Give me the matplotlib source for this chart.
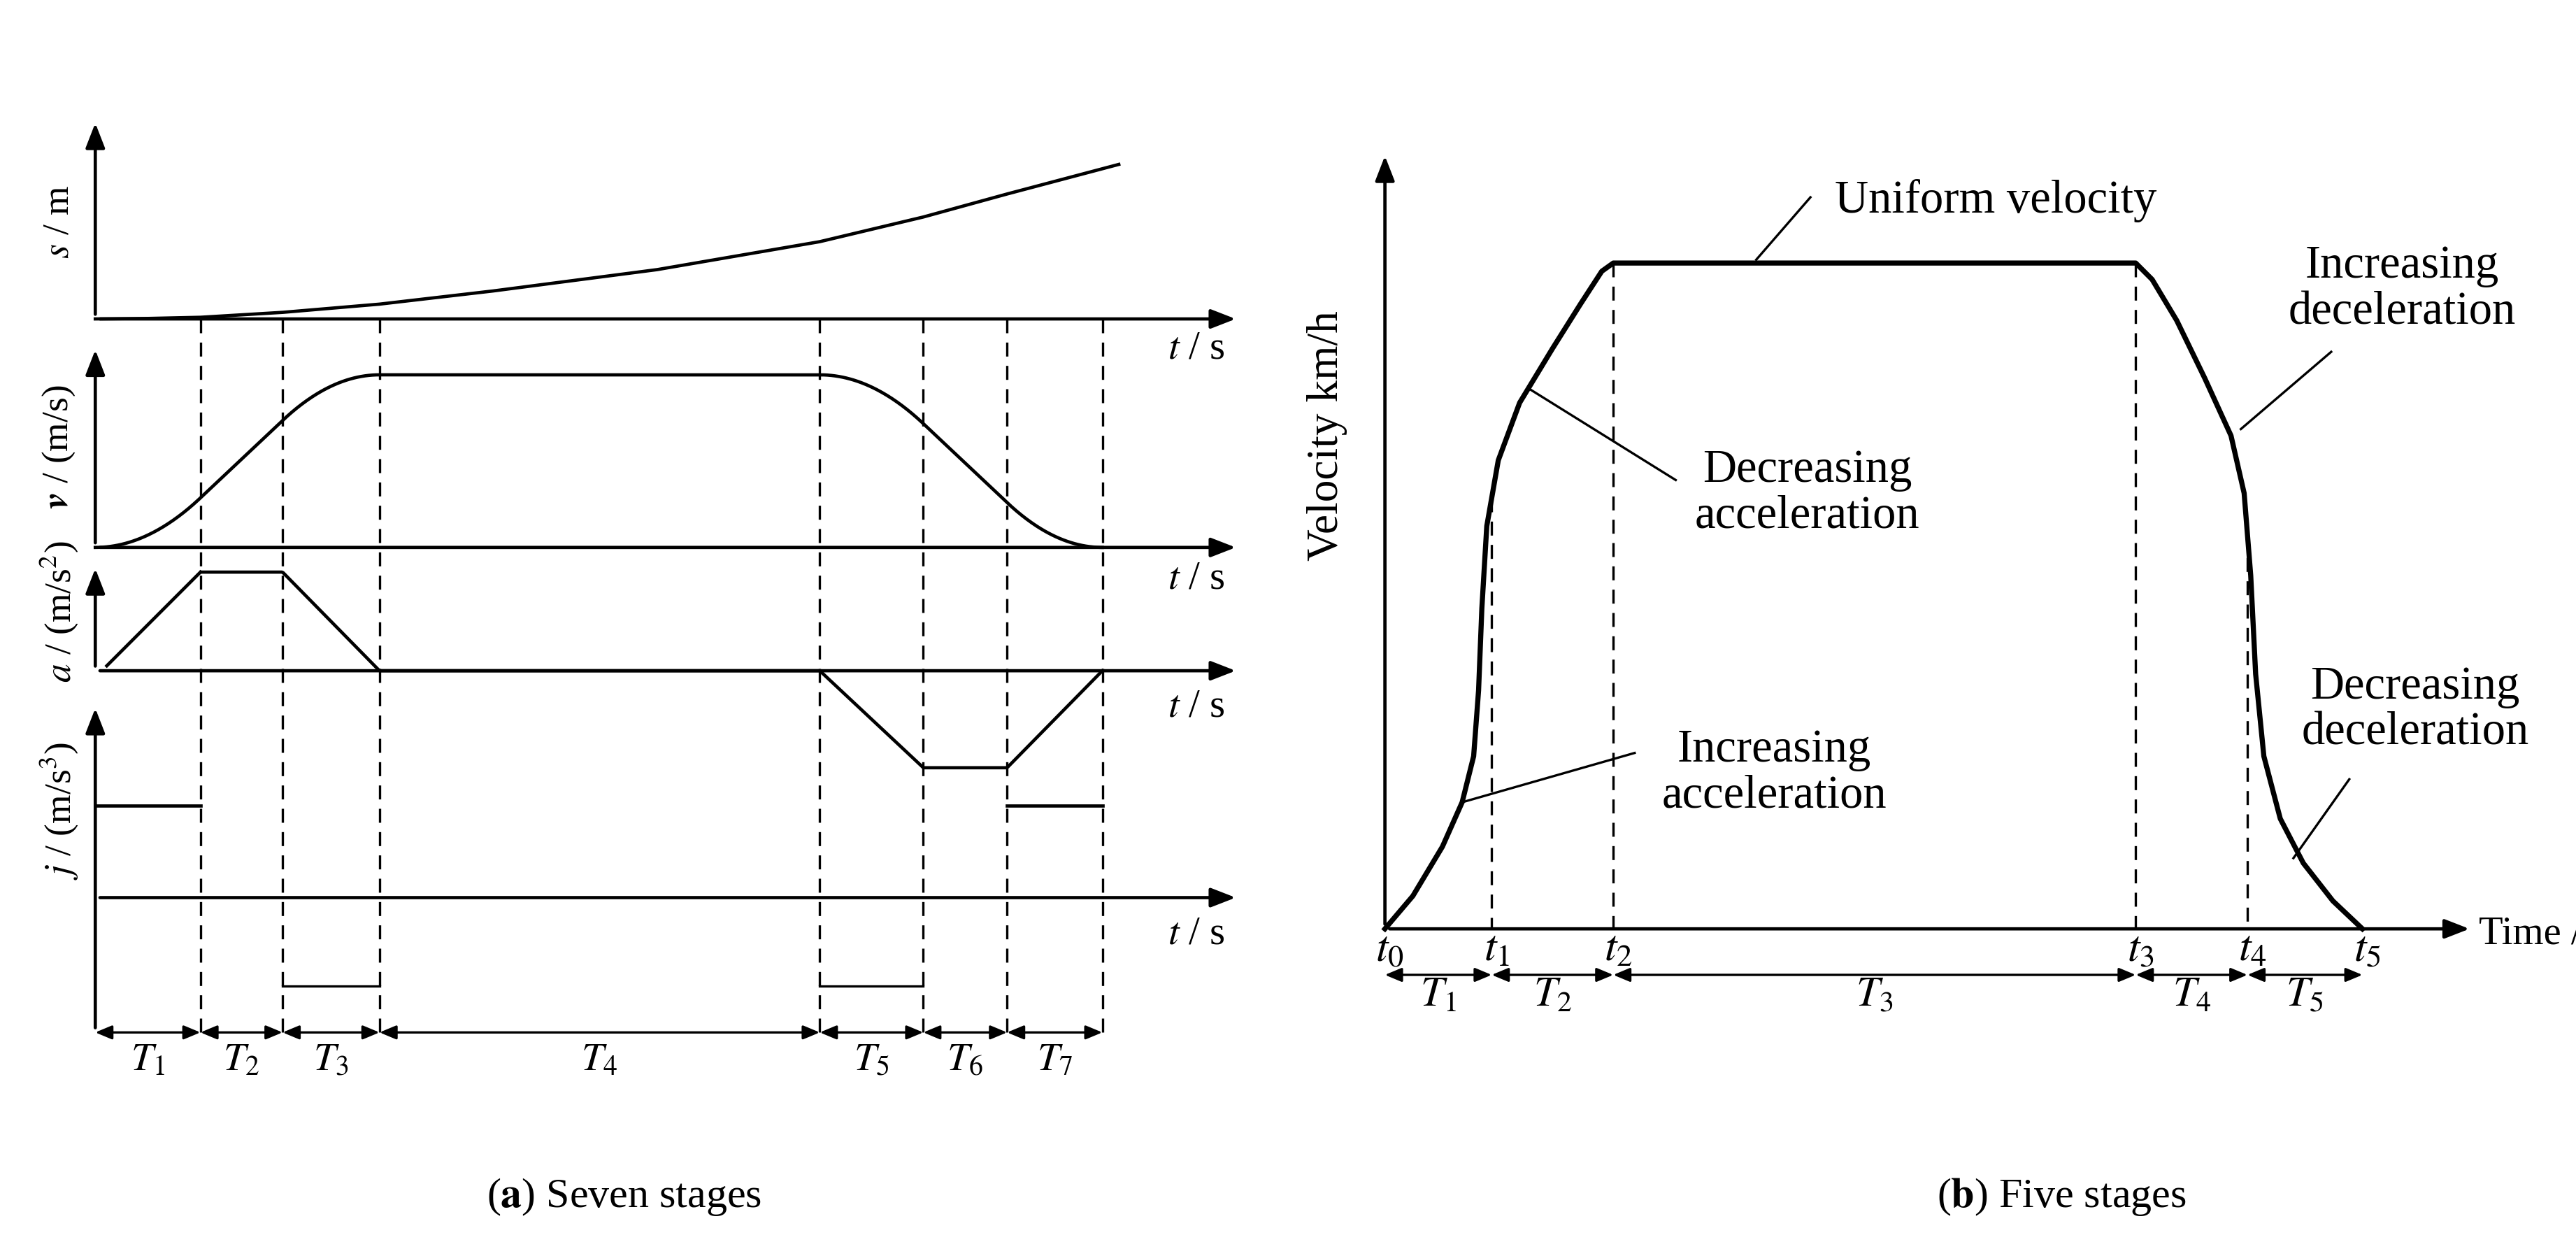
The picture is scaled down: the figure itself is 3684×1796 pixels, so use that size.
import numpy as np
import matplotlib.pyplot as plt

plt.rcParams['font.family'] = 'Liberation Serif'
plt.rcParams['mathtext.fontset'] = 'stix'

# ---- panel (a): seven stages (coordinates in reference pixels / 2.35) ----
t_bounds = [58, 122, 172, 231, 499, 562, 613, 671]
stage_labels = ['$T_1$', '$T_2$', '$T_3$', '$T_4$', '$T_5$', '$T_6$', '$T_7$']
a_levels = [0, 1, 1, 0, 0, -1, -1, 0]          # acceleration at each boundary
j_levels = [1, 0, -1, 0, -1, 0, 1]             # jerk per stage
s_x = [58, 90, 122, 172, 231, 300, 400, 499, 562, 613, 681]
s_h = [0, 0.3, 1, 4, 9, 17, 30, 47, 62, 76, 94]

# ---- panel (b): five stages ----
b_bounds = [843, 908, 982, 1300, 1368, 1438]
b_names = ['$t_0$', '$t_1$', '$t_2$', '$t_3$', '$t_4$', '$t_5$']
b_stage = ['$T_1$', '$T_2$', '$T_3$', '$T_4$', '$T_5$']
vel_x = [843, 860, 878, 890, 897, 900, 902, 905, 912, 925, 945, 962, 975, 982,
         1300, 1310, 1325, 1342, 1358, 1366, 1370, 1373, 1378, 1388, 1402, 1420, 1438]
vel_y = [565, 545, 515, 488, 460, 420, 370, 320, 280, 245, 212, 185, 165, 160,
         160, 170, 195, 230, 265, 300, 350, 410, 460, 498, 525, 548, 565]

fig = plt.figure(figsize=(3684 / 240, 1796 / 240), dpi=240)
ax = fig.add_axes([0, 0, 1, 1])
ax.set_xlim(0, 1568)
ax.set_ylim(764, 0)
ax.axis('off')

lw = 1.4
arr = dict(arrowstyle='-|>,head_length=0.9,head_width=0.35', color='black', lw=lw)

def axis_arrow(x0, y0, x1, y1):
    ax.annotate('', xy=(x1, y1), xytext=(x0, y0), arrowprops=arr)

def dim(x0, x1, y):
    d = dict(arrowstyle='<|-|>,head_length=0.6,head_width=0.25', color='black', lw=1.0,
             shrinkA=0, shrinkB=0)
    ax.annotate('', xy=(x1, y), xytext=(x0, y), arrowprops=d)

# panel (a) axes
x0a, xend = t_bounds[0], 755
bases = {'s': 194, 'v': 333, 'a': 408, 'j': 546}
tops = {'s': 72, 'v': 210, 'a': 343, 'j': 428}
for k in bases:
    axis_arrow(x0a, bases[k], xend, bases[k])
    bottom = 628 if k == 'j' else bases[k]
    axis_arrow(x0a, bottom, x0a, tops[k])
for k, y in zip(['s', 'v', 'a', 'j'], [212, 352, 430, 568]):
    ax.text(728, y, '$t$ / s', fontsize=17, ha='center', va='center')
ylabs = [('$s$ / m', 135), (r'$\boldsymbol{v}$ / (m/s)', 272),
         ('$a$ / (m/s$^2$)', 372), ('$j$ / (m/s$^3$)', 493)]
for txt, y in ylabs:
    ax.text(36, y, txt, fontsize=16, rotation=90, ha='center', va='center')

# s curve
ax.plot(s_x, bases['s'] - np.array(s_h), color='black', lw=lw)

# a and v from the piecewise-linear acceleration
xx = np.linspace(t_bounds[0], t_bounds[-1], 800)
acc = np.interp(xx, t_bounds, a_levels)
vel = np.concatenate([[0], np.cumsum((acc[1:] + acc[:-1]) / 2 * np.diff(xx))])
vel = vel / vel.max() * 105
ax.plot(xx, bases['v'] - vel, color='black', lw=lw)
a_plot = np.where(acc >= 0, acc * 60, acc * 59)
a_plot[xx < t_bounds[1]] = np.nan
ax.plot(xx, bases['a'] - a_plot, color='black', lw=lw)
ax.plot([65, t_bounds[1]], [bases['a'] - 3, bases['a'] - 60], color='black', lw=lw)

# jerk
for i, jl in enumerate(j_levels):
    if jl != 0:
        y = bases['j'] - 56 if jl > 0 else bases['j'] + 54
        ax.plot([t_bounds[i], t_bounds[i + 1]], [y, y], color='black',
                lw=lw if jl > 0 else 1.0)

# dashed verticals and dimensions
for x in t_bounds[1:]:
    ax.plot([x, x], [194, 628], color='black', lw=1.0, ls=(0, (6, 4)))
for i in range(7):
    dim(t_bounds[i], t_bounds[i + 1], 628)
    ax.text((t_bounds[i] + t_bounds[i + 1]) / 2, 645, stage_labels[i], fontsize=17,
            ha='center', va='center')
ax.text(380, 728, r'($\mathbf{a}$) Seven stages', fontsize=18, ha='center', va='center')

# panel (b)
axis_arrow(843, 565, 1506, 565)
axis_arrow(843, 565, 843, 92)
ax.text(1509, 568, 'Time / s', fontsize=17, ha='left', va='center')
ax.text(808, 265, 'Velocity km/h', fontsize=19, rotation=90, ha='center', va='center')
ax.plot(vel_x, vel_y, color='black', lw=2.2)
for i, x in enumerate(b_bounds[1:-1], start=1):
    ytop = np.interp(x, vel_x[:14], vel_y[:14]) if i <= 2 else \
        np.interp(x, vel_x[13:], vel_y[13:])
    ax.plot([x, x], [ytop, 565], color='black', lw=1.0, ls=(0, (6, 4)))
for i, (x, nm) in enumerate(zip(b_bounds, b_names)):
    ax.text(x + 3, 578, nm, fontsize=19, ha='center', va='center')
for i in range(5):
    dim(b_bounds[i], b_bounds[i + 1], 593)
    ax.text((b_bounds[i] + b_bounds[i + 1]) / 2, 606, b_stage[i], fontsize=18,
            ha='center', va='center')

notes = [('Uniform velocity', 1215, 122, (1102, 120), (1069, 158)),
         ('Increasing\ndeceleration', 1462, 176, (1419, 214), (1364, 261)),
         ('Decreasing\nacceleration', 1100, 300, (1020, 292), (930, 236)),
         ('Increasing\nacceleration', 1080, 470, (995, 458), (890, 488)),
         ('Decreasing\ndeceleration', 1470, 432, (1430, 474), (1396, 522))]
for txt, tx, ty, p0, p1 in notes:
    ax.text(tx, ty, txt, fontsize=20, ha='center', va='center', linespacing=1.1)
    ax.plot([p0[0], p1[0]], [p0[1], p1[1]], color='black', lw=1.0)
ax.text(1255, 728, r'($\mathbf{b}$) Five stages', fontsize=18, ha='center', va='center')

fig.savefig('out.png', dpi=240, facecolor='white')
